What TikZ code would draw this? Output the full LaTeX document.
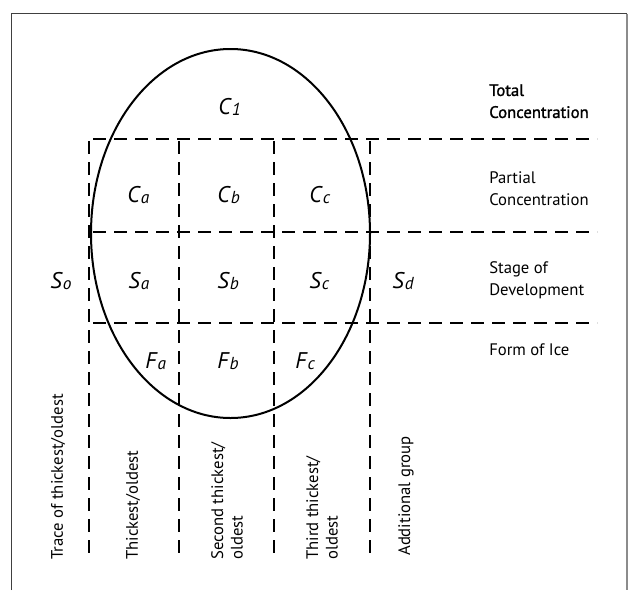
\documentclass[tikz,border=0pt]{standalone}
\usepackage{fontspec}
\setmainfont{PT Sans}
\newfontfamily\semibf[FakeBold=1.3]{PT Sans}
\newcommand{\symlab}[2]{\textit{#1}\raisebox{-1.2pt}{\fontsize{13}{13}\selectfont\itshape #2}}
\begin{document}
\begin{tikzpicture}[x=0.75pt,y=-0.75pt,
  dsh/.style={line width=1pt, dash pattern=on 9.75pt off 6pt},
  frameline/.style={line width=0.8pt, draw=black!75},
  sym/.style={font=\fontsize{17}{20}\selectfont, inner sep=0pt, anchor=base west},
  rlab/.style={font=\fontsize{12.5}{16.5}\selectfont, align=left, anchor=north west, inner sep=0pt},
  vlab/.style={font=\fontsize{12.5}{14.5}\selectfont, align=left, rotate=90, anchor=west, inner sep=0pt}]
\useasboundingbox (0,0) rectangle (628,590);
% frame
\draw[frameline] (11.5,590) -- (11.5,13.5) -- (627,13.5);
\draw[line width=0.8pt, draw=black!45] (627,13.5) -- (627,590);
% grid coordinates
\coordinate (h1l) at (93,139);  \coordinate (h1r) at (597,139);
\coordinate (h2l) at (93,232);  \coordinate (h2r) at (597,232);
\coordinate (h3l) at (93,323);  \coordinate (h3r) at (597,323);
\coordinate (v1t) at (89,141);  \coordinate (v1b) at (89,560);
\coordinate (v2t) at (179,141); \coordinate (v2b) at (179,560);
\coordinate (v3t) at (274,141); \coordinate (v3b) at (274,560);
\coordinate (v4t) at (370,141); \coordinate (v4b) at (370,560);
\draw[dsh] (h1l) -- (h1r);
\draw[dsh] (h2l) -- (h2r);
\draw[dsh] (h3l) -- (h3r);
\draw[dsh] (v1t) -- (v1b);
\draw[dsh] (v2t) -- (v2b);
\draw[dsh] (v3t) -- (v3b);
\draw[dsh] (v4t) -- (v4b);
% ellipse
\coordinate (ec) at (230.5,233.5);
\draw[line width=1.5pt] (ec) ellipse [x radius=139.5, y radius=184.5];
% symbols
\node[sym] (c1) at (218,114) {\symlab{C}{1}};
\node[sym] (ca) at (127,202) {\symlab{C}{a}};
\node[sym] (cb) at (217,202) {\symlab{C}{b}};
\node[sym] (cc) at (309,202) {\symlab{C}{c}};
\node[sym] (so) at (50,288) {\symlab{S}{o}};
\node[sym] (sa) at (128,288) {\symlab{S}{a}};
\node[sym] (sb) at (217,288) {\symlab{S}{b}};
\node[sym] (sc) at (309,288) {\symlab{S}{c}};
\node[sym] (sd) at (392,288) {\symlab{S}{d}};
\node[sym] (fa) at (145,368) {\symlab{F}{a}};
\node[sym] (fb) at (217,368) {\symlab{F}{b}};
\node[sym] (fc) at (295,368) {\symlab{F}{c}};
% right labels
\node[rlab, font=\fontsize{12.5}{16.5}\semibf] (tot) at (489,84) {Total\\Concentration};
\node[rlab] (par) at (489,171) {Partial\\Concentration};
\node[rlab] (sta) at (489,261) {Stage of\\Development};
\node[rlab] (frm) at (489,343) {Form of Ice};
% rotated labels
\node[vlab] (tr) at (58,560) {Trace of thickest/oldest};
\node[vlab] (th) at (133,560) {Thickest/oldest};
\node[vlab] (se) at (227,560) {Second thickest/\\oldest};
\node[vlab] (tt) at (322,560) {Third thickest/\\oldest};
\node[vlab] (ad) at (406,556) {Additional group};
\end{tikzpicture}
\end{document}
